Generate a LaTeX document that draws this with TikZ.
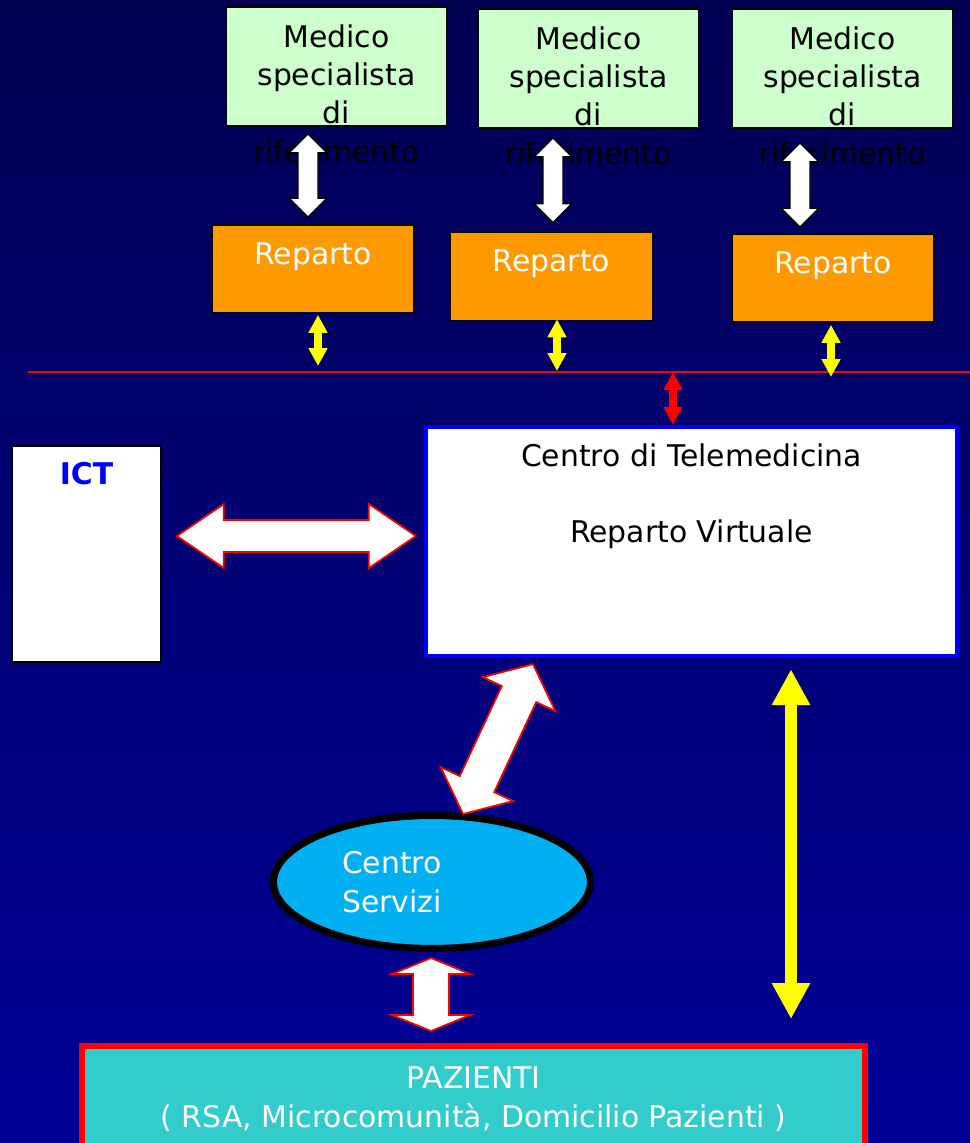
\documentclass[tikz,border=0pt]{standalone}
\usepackage{fontspec}
\setmainfont{DejaVu Sans}
\usetikzlibrary{calc,arrows.meta,positioning,shapes.geometric}
\definecolor{bgtop}{RGB}{0,0,82}
\definecolor{bgbot}{RGB}{0,0,152}
\definecolor{medgreen}{RGB}{204,255,204}
\definecolor{reporange}{RGB}{255,153,0}
\definecolor{servblue}{RGB}{0,176,240}
\definecolor{pazcyan}{RGB}{51,204,204}
\definecolor{arrowyellow}{RGB}{255,255,0}
\newcommand{\bigfont}{\fontsize{17pt}{21.8pt}\selectfont}
\newcommand{\fatarrow}[6][]{%
  \coordinate (fa-s) at ($(#2)!#6!(#3)$);
  \coordinate (fa-e) at ($(#3)!#6!(#2)$);
  \filldraw[#1] (#2) -- ($(fa-s)!#5!90:(#3)$) -- ($(fa-s)!#4!90:(#3)$)
    -- ($(fa-e)!#4!-90:(#2)$) -- ($(fa-e)!#5!-90:(#2)$) -- (#3)
    -- ($(fa-e)!#5!90:(#2)$) -- ($(fa-e)!#4!90:(#2)$)
    -- ($(fa-s)!#4!-90:(#3)$) -- ($(fa-s)!#5!-90:(#3)$) -- cycle;
}

\begin{document}
\begin{tikzpicture}[x=0.02cm,y=-0.02cm,font=\bigfont,
  medbox/.style={draw=black,line width=1pt,fill=medgreen,minimum width=4.4cm,minimum height=2.38cm,inner sep=0pt},
  repbox/.style={draw=black,line width=1pt,fill=reporange,minimum width=4.04cm,minimum height=1.76cm,inner sep=0pt},
  boxtext/.style={inner sep=0pt,align=center},
  whitearrow/.style={fill=white,draw=black,line width=0.8pt},
  redarrow/.style={fill=white,draw=red,line width=1pt},
  yelarrow/.style={arrowyellow,line width=4pt,{Triangle[length=10.2pt,width=10.2pt]}-{Triangle[length=10.2pt,width=10.2pt]}}]

  \useasboundingbox (0,0) rectangle (970,1143);
  \clip (0,0) rectangle (970,1143);
  \shade[top color=bgtop,bottom color=bgbot] (0,0) rectangle (970,1143);

  \node[medbox] (med1) at (336.5,66.5) {};
  \node[medbox] (med2) at (588.5,68.5) {};
  \node[medbox] (med3) at (842.5,68.5) {};
  \foreach \i in {1,2,3}
    \node[boxtext,below=0.36cm of med\i.north] (medtxt\i) {Medico\\specialista\\di\\riferimento};

  \node[repbox] (rep1) at (313,269) {};
  \node[repbox] (rep2) at (551.5,276.5) {};
  \node[repbox] (rep3) at (833,278) {};
  \foreach \i in {1,2,3}
    \node[boxtext,text=white,below=0.36cm of rep\i.north] (reptxt\i) {Reparto};

  \coordinate (lineL) at (28,372);
  \coordinate (lineR) at (970,372);
  \draw[red,line width=1.2pt] (lineL) -- (lineR);

  \node[draw=blue,line width=2.5pt,fill=white,minimum width=10.62cm,minimum height=4.58cm] (tele) at (691.5,541.5) {};
  \node[boxtext,below=0.38cm of tele.north] (teletxt) {Centro di Telemedicina\\[21.3pt]Reparto Virtuale};

  \node[draw=black,line width=1pt,fill=white,minimum width=2.98cm,minimum height=4.32cm] (ict) at (86.5,554) {};
  \node[boxtext,text=blue,font=\bigfont\bfseries,below=0.34cm of ict.north] (icttxt) {ICT};

  \node[ellipse,draw=black,line width=4pt,fill=servblue,minimum width=6.34cm,minimum height=2.66cm,inner sep=0pt] (serv) at (432,882) {};
  \node[boxtext,align=left,text=white] (servtxt) at ($(serv.center)+(-40,0)$) {Centro\\Servizi};

  \node[draw=red,line width=3.4pt,fill=pazcyan,minimum width=15.66cm,minimum height=2.12cm,align=center,text=white] (paz) at (473.5,1099) {PAZIENTI\\( RSA, Microcomunità, Domicilio Pazienti )};

  \coordinate (w1t) at ($(med1.south)+(-28.5,7)$);
  \coordinate (w1b) at ($(rep1.north)+(-5,-7)$);
  \coordinate (w2t) at ($(med2.south)+(-35.5,9)$);
  \coordinate (w2b) at ($(rep2.north)+(1.5,-9)$);
  \coordinate (w3t) at ($(med3.south)+(-42.5,14)$);
  \coordinate (w3b) at ($(rep3.north)+(-33,-6)$);
  \fatarrow[whitearrow]{w1t}{w1b}{0.2cm}{0.38cm}{0.38cm}
  \fatarrow[whitearrow]{w2t}{w2b}{0.2cm}{0.38cm}{0.38cm}
  \fatarrow[whitearrow]{w3t}{w3b}{0.2cm}{0.38cm}{0.38cm}

  \coordinate (y1t) at ($(rep1.south)+(5,1)$);
  \coordinate (y2t) at ($(rep2.south)+(5.5,-2)$);
  \coordinate (y3t) at ($(rep3.south)+(-2,2)$);
  \draw[yelarrow] (y1t) -- ($(y1t |- lineL)+(0,-6)$);
  \draw[yelarrow] (y2t) -- ($(y2t |- lineL)+(0,-1)$);
  \draw[yelarrow] (y3t) -- ($(y3t |- lineL)+(0,5)$);
  \coordinate (rb) at ($(tele.north)+(-18.5,0)$);
  \draw[yelarrow,red] (rb |- lineL) -- (rb);

  \coordinate (ia) at ($(ict.east)+(15,-18)$);
  \coordinate (ib) at ($(tele.west)+(-8,-5.5)$);
  \fatarrow[redarrow]{ia}{ib}{0.32cm}{0.64cm}{0.94cm}

  \coordinate (da) at ($(serv.north)+(31,2)$);
  \coordinate (db) at ($(tele.south)+(-158.5,6)$);
  \fatarrow[redarrow]{da}{db}{0.38cm}{0.8cm}{0.66cm}

  \coordinate (pa) at ($(serv.south)+(-1,6)$);
  \coordinate (pb) at ($(paz.north)+(-42.5,-12)$);
  \fatarrow[redarrow]{pa}{pb}{0.36cm}{0.78cm}{0.32cm}

  \coordinate (la) at ($(tele.south)+(99.5,11)$);
  \coordinate (lb) at ($(paz.north)+(317.5,-24)$);
  \draw[yelarrow,line width=6.4pt,{Triangle[length=20.4pt,width=20.4pt]}-{Triangle[length=20.4pt,width=20.4pt]}] (la) -- (lb);

\end{tikzpicture}
\end{document}
